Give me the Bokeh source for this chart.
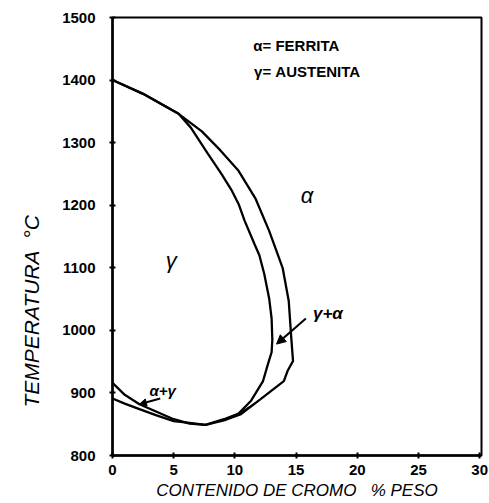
from bokeh.plotting import figure
from bokeh.models import Range1d, Label, Arrow, NormalHead, FixedTicker, Title
from bokeh.embed import file_html
from bokeh.resources import INLINE

# --- data ---
# gamma (austenite) boundary: inner loop, clockwise from 1400 °C at 0 % Cr
gamma_x = [0, 2.5, 5.4, 6.4, 7.8, 8.9, 9.7, 10.3, 10.8, 11.6, 12.0, 12.4, 12.8, 13.0,
           13.06, 13.0, 12.7, 12.3, 11.3, 10.3, 9.1, 7.6, 6.3, 5.0, 3.6, 2.2, 1.0, 0]
gamma_y = [1400, 1378, 1346, 1324, 1282, 1250, 1225, 1202, 1175, 1138, 1120, 1090, 1051, 1019,
           985, 965, 946, 919, 887, 867, 858, 849, 851, 858, 870, 882, 897, 916]
# alpha (ferrite) boundary: outer loop
alpha_x = [0, 2.5, 5.4, 7.3, 8.8, 10.3, 11.7, 12.8, 13.9, 14.4, 14.6, 14.75, 14.3, 14.0,
           12.1, 10.5, 9.1, 7.6, 6.3, 5.0, 3.6, 2.2, 1.0, 0]
alpha_y = [1400, 1378, 1346, 1318, 1288, 1255, 1210, 1159, 1100, 1047, 990, 951, 935, 919,
           890, 866, 856, 849, 852, 855, 864, 874, 883, 891]

x_ticks = [0, 5, 10, 15, 20, 25, 30]
y_ticks = [800, 900, 1000, 1100, 1200, 1300, 1400, 1500]

FONT = "Liberation Sans"

p = figure(width=489, height=503, output_backend="svg", toolbar_location=None,
           x_range=Range1d(0, 30.15), y_range=Range1d(800, 1500),
           min_border_left=111, min_border_right=8, min_border_top=17, min_border_bottom=48)
p.background_fill_color = "white"
p.border_fill_color = "white"
p.grid.visible = False
p.outline_line_color = "black"
p.outline_line_width = 2

for ax in (p.xaxis, p.yaxis):
    ax.axis_line_width = 2.5
    ax.axis_line_color = "black"
    ax.major_tick_in = 3
    ax.major_tick_out = 3
    ax.major_tick_line_width = 2
    ax.minor_tick_line_color = None
    ax.major_label_text_font = FONT
    ax.major_label_text_font_style = "bold"
    ax.major_label_text_font_size = "15px"
    ax.major_label_text_color = "black"

p.xaxis.ticker = FixedTicker(ticks=x_ticks)
p.yaxis.ticker = FixedTicker(ticks=y_ticks)
p.xaxis.major_label_standoff = 6
p.yaxis.major_label_standoff = 14

p.xaxis.axis_label = "CONTENIDO DE CROMO\u00a0\u00a0\u00a0% PESO"
p.xaxis.axis_label_text_font = FONT
p.xaxis.axis_label_text_font_style = "italic"
p.xaxis.axis_label_text_font_size = "17px"
p.xaxis.axis_label_text_color = "black"
p.xaxis.axis_label_standoff = 3

# y axis title, off-centre like the reference
ytitle = Title(text="TEMPERATURA" + "\u00a0" * 2 + "°C", align="left", offset=48,
               text_font=FONT, text_font_style="italic", text_font_size="21px",
               text_color="black", standoff=34)
p.add_layout(ytitle, "left")

# curves
p.line(gamma_x, gamma_y, line_color="black", line_width=2.3)
p.line(alpha_x, alpha_y, line_color="black", line_width=2.3)
# filled sliver where the two boundaries converge (bottom right)
p.patch(alpha_x[14:17] + gamma_x[19:21][::-1], alpha_y[14:17] + gamma_y[19:21][::-1],
        fill_color="black", line_color="black", line_width=1)

def lab(x, y, t, size="16px", style="normal", angle=0, ax="center"):
    p.add_layout(Label(x=x, y=y, text=t, text_font=FONT, text_font_size=size,
                       text_font_style=style, text_align=ax, text_baseline="middle",
                       angle=angle, text_color="black"))

# legend text
lab(11.5, 1455, "α= FERRITA", "15px", "bold", ax="left")
lab(11.57, 1413, "γ= AUSTENITA", "15px", "bold", ax="left")
# region labels
lab(15.9, 1216, "α", "22px", "italic")
lab(4.8, 1111, "γ", "22px", "italic")
lab(17.6, 1027, "γ+α", "17px", "bold italic")
lab(4.1, 904, "α+γ", "15px", "bold italic")

# arrows
p.add_layout(Arrow(x_start=15.8, y_start=1019, x_end=13.4, y_end=978,
                   line_width=2, end=NormalHead(size=9, fill_color="black", line_color="black")))
p.add_layout(Arrow(x_start=3.9, y_start=891, x_end=2.2, y_end=882,
                   line_width=2, end=NormalHead(size=7, fill_color="black", line_color="black")))

open("out.html", "w").write(file_html(p, INLINE))
